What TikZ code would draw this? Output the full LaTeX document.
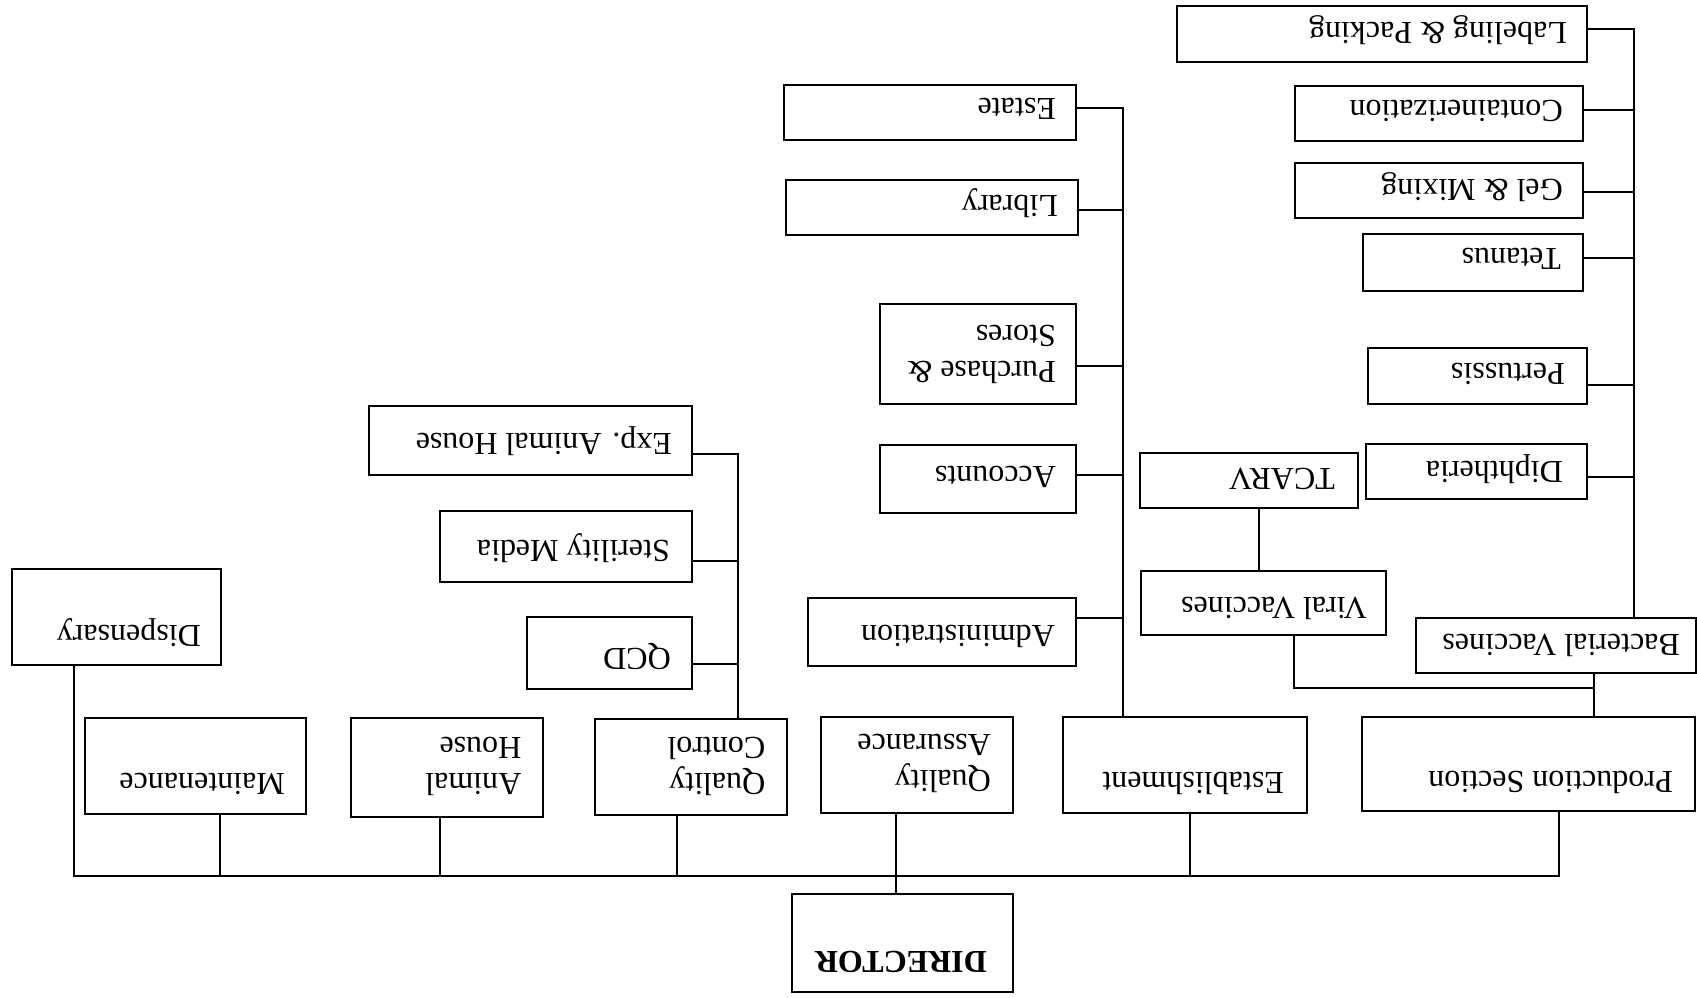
\documentclass[tikz,border=0pt]{standalone}
\usepackage{fontspec}
\setmainfont{Liberation Serif}
\usetikzlibrary{calc}
\begin{document}
\begin{tikzpicture}[x=1pt,y=-1pt,
  bx/.style={draw, line width=2.4pt, inner sep=0pt, rectangle},
  tx/.style={rotate=180, anchor=west, inner sep=0pt, font=\fontsize{32}{36}\selectfont, text height=21.2pt, text depth=0pt},
  txx/.style={rotate=180, anchor=west, inner sep=0pt, font=\fontsize{32}{36}\selectfont, align=left},
  ln/.style={line width=2.1pt}]
\useasboundingbox (0,0) rectangle (1697,998);

% ---------------- boxes ----------------
\node[bx, minimum width=410, minimum height=56] (lab) at (1382,34) {};
\node[tx] (lab-t) at (1567,33) {Labeling \& Packing};
\node[bx, minimum width=292, minimum height=55] (estate) at (930,112.5) {};
\node[tx] (estate-t) at (1056,109) {Estate};
\node[bx, minimum width=288, minimum height=55] (cont) at (1439,113.5) {};
\node[tx] (cont-t) at (1563,111) {Containerization};
\node[bx, minimum width=292, minimum height=55] (lib) at (932,207.5) {};
\node[tx] (lib-t) at (1058,206) {Library};
\node[bx, minimum width=288, minimum height=55] (gel) at (1439,190.5) {};
\node[tx] (gel-t) at (1563,190) {Gel \& Mixing};
\node[bx, minimum width=220, minimum height=57] (tet) at (1473,262.5) {};
\node[tx] (tet-t) at (1561,259) {Tetanus};
\node[bx, minimum width=196, minimum height=100] (pur) at (978,354) {};
\node[txx] (pur-t) at (1056,354) {Purchase \&\\Stores};
\node[bx, minimum width=219, minimum height=56] (per) at (1477.5,376) {};
\node[tx] (per-t) at (1565,374) {Pertussis};
\node[bx, minimum width=196, minimum height=68] (acc) at (978,479) {};
\node[tx] (acc-t) at (1056,477) {Accounts};
\node[bx, minimum width=218, minimum height=55] (tca) at (1249,480.5) {};
\node[tx] (tca-t) at (1335,479) {TCARV};
\node[bx, minimum width=221, minimum height=55] (dip) at (1476.5,471.5) {};
\node[tx] (dip-t) at (1563,472) {Diphtheria};
\node[bx, minimum width=323, minimum height=69] (exp) at (530.5,440.5) {};
\node[tx] (exp-t) at (672,444) {Exp. Animal House};
\node[bx, minimum width=252, minimum height=71] (ste) at (566,546.5) {};
\node[tx] (ste-t) at (670,551) {Sterility Media};
\node[bx, minimum width=209, minimum height=96] (dis) at (116.5,617) {};
\node[tx] (dis-t) at (201,636) {Dispensary};
\node[bx, minimum width=165, minimum height=72] (qcd) at (609.5,653) {};
\node[tx] (qcd-t) at (671,659) {QCD};
\node[bx, minimum width=268, minimum height=68] (adm) at (942,632) {};
\node[tx] (adm-t) at (1055,636) {Administration};
\node[bx, minimum width=245, minimum height=64] (vir) at (1263.5,603) {};
\node[tx] (vir-t) at (1367,608) {Viral Vaccines};
\node[bx, minimum width=280, minimum height=55] (bac) at (1556,645.5) {};
\node[tx] (bac-t) at (1680,645) {Bacterial Vaccines};
\node[bx, minimum width=221, minimum height=96] (mai) at (195.5,766) {};
\node[tx] (mai-t) at (285,784) {Maintenance};
\node[bx, minimum width=192, minimum height=99] (ani) at (447,767.5) {};
\node[txx] (ani-t) at (521.5,766) {Animal\\House};
\node[bx, minimum width=192, minimum height=96] (qc) at (691,767) {};
\node[txx] (qc-t) at (765.5,766) {Quality\\Control};
\node[bx, minimum width=192, minimum height=96] (qa) at (917,765) {};
\node[txx] (qa-t) at (991,763.5) {Quality\\Assurance};
\node[bx, minimum width=244, minimum height=96] (est) at (1185,765) {};
\node[tx] (est-t) at (1284,783) {Establishment};
\node[bx, minimum width=333, minimum height=94] (pro) at (1528.5,764) {};
\node[tx] (pro-t) at (1673,782) {Production Section};
\node[bx, minimum width=221, minimum height=98] (dir) at (902.5,943) {};
\node[tx, font=\fontsize{32}{36}\selectfont\bfseries] (dir-t) at (987,962) {DIRECTOR};

% ---------------- coordinates ----------------
\coordinate (bDis) at (74,876);
\coordinate (bMai) at (220,876);
\coordinate (bAni) at (440,876);
\coordinate (bQC) at (677,876);
\coordinate (bQA) at (896,876);
\coordinate (bEst) at (1190,876);
\coordinate (bPro) at (1559,876);

\coordinate (qcT) at (738,454);
\coordinate (qcS) at (738,561);
\coordinate (qcQ) at (738,664);

\coordinate (eE) at (1123,108);
\coordinate (eL) at (1123,210);
\coordinate (eP) at (1123,366);
\coordinate (eA) at (1123,475);
\coordinate (eD) at (1123,618);

\coordinate (pL) at (1634,29);
\coordinate (pC) at (1634,110);
\coordinate (pG) at (1634,192);
\coordinate (pT) at (1634,258);
\coordinate (pP) at (1634,385);
\coordinate (pD) at (1634,477);

\coordinate (vbL) at (1294,688);
\coordinate (vbR) at (1594,688);
\coordinate (tv) at (1259,540);

% ---------------- connectors ----------------
\draw[ln] (dis.south -| bDis) -- (bDis) -- (bPro) -- (pro.south -| bPro);
\draw[ln] (mai.south -| bMai) -- (bMai);
\draw[ln] (ani.south -| bAni) -- (bAni);
\draw[ln] (qc.south -| bQC) -- (bQC);
\draw[ln] (est.south -| bEst) -- (bEst);
\draw[ln] (qa.south -| bQA) -- (dir.north -| bQA);

\draw[ln] (exp.east |- qcT) -- (qcT) -- (qc.north -| qcT);
\draw[ln] (ste.east |- qcS) -- (qcS);
\draw[ln] (qcd.east |- qcQ) -- (qcQ);

\draw[ln] (estate.east |- eE) -- (eE) -- (est.north -| eE);
\draw[ln] (lib.east |- eL) -- (eL);
\draw[ln] (pur.east |- eP) -- (eP);
\draw[ln] (acc.east |- eA) -- (eA);
\draw[ln] (adm.east |- eD) -- (eD);

\draw[ln] (lab.east |- pL) -- (pL) -- (bac.north -| pL);
\draw[ln] (cont.east |- pC) -- (pC);
\draw[ln] (gel.east |- pG) -- (pG);
\draw[ln] (tet.east |- pT) -- (pT);
\draw[ln] (per.east |- pP) -- (pP);
\draw[ln] (dip.east |- pD) -- (pD);

\draw[ln] (vir.south -| vbL) -- (vbL) -- (vbR);
\draw[ln] (bac.south -| vbR) -- (pro.north -| vbR);
\draw[ln] (tca.south -| tv) -- (vir.north -| tv);
\end{tikzpicture}
\end{document}
